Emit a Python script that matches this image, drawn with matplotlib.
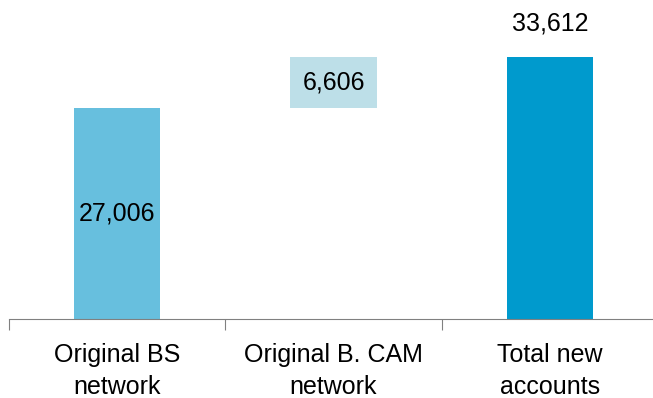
import matplotlib.pyplot as plt

plt.rcParams['font.family'] = ['Liberation Sans', 'DejaVu Sans']

categories = ["Original BS\nnetwork", "Original B. CAM\nnetwork", "Total new\naccounts"]
values = [27006, 6606, 33612]
labels = ["27,006", "6,606", "33,612"]
colors = ["#67BFDE", "#BDDFE8", "#009ACD"]

# waterfall: second step floats on top of the first
bottoms = [0, values[0], 0]
x = list(range(len(categories)))

fig = plt.figure(figsize=(6.53, 3.98), dpi=100)
ax = fig.add_axes([9 / 653, (398 - 319) / 398, 649 / 653, 319 / 398])

ax.bar(x, values, bottom=bottoms, width=0.4, color=colors)

ax.set_xlim(-0.5, 2.5)
ax.set_ylim(0, 40900)

# value labels
ax.text(0, values[0] / 2, labels[0], ha="center", va="center", fontsize=18)
ax.text(1, bottoms[1] + values[1] / 2, labels[1], ha="center", va="center", fontsize=18)
ax.text(2, values[2] + 4300, labels[2], ha="center", va="center", fontsize=18)

for side in ["top", "right", "left"]:
    ax.spines[side].set_visible(False)
ax.spines["bottom"].set_color("#808080")
ax.set_yticks([])
ax.set_xticks([-0.5, 0.5, 1.5], minor=False)
ax.set_xticklabels([])
ax.tick_params(axis="x", which="major", length=8, color="#808080", direction="out")
ax.set_xticks(x, minor=True)
ax.set_xticklabels(categories, minor=True, fontsize=18, linespacing=1.42)
ax.tick_params(axis="x", which="minor", length=0, pad=17)

fig.savefig("out.png", dpi=100)
